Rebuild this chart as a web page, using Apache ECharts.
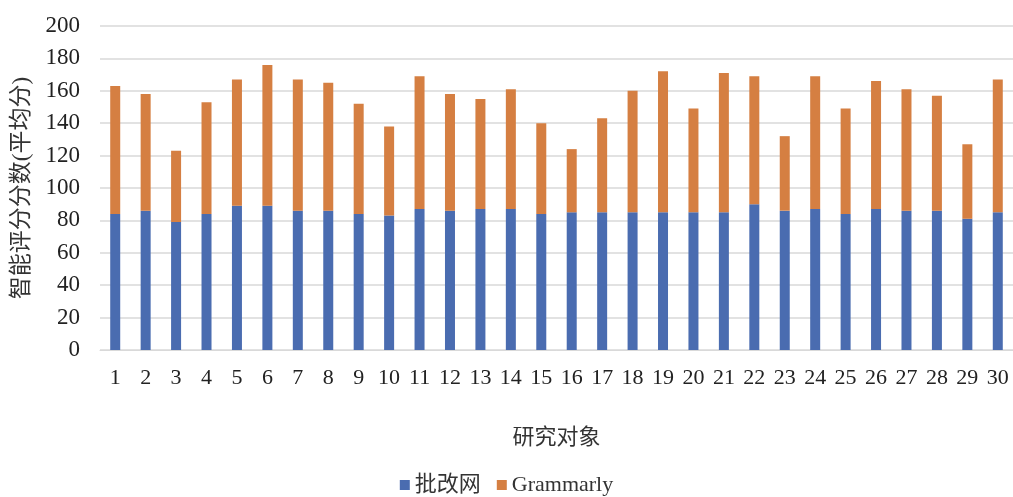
<!DOCTYPE html>
<html><head><meta charset="utf-8">
<script src="https://cdn.jsdelivr.net/npm/echarts@6/dist/echarts.min.js"></script>
<style>html,body{margin:0;padding:0;background:#fff}#c{width:1013px;height:497px}</style>
</head><body><div id="c"></div>
<script>
const categories = ['1','2','3','4','5','6','7','8','9','10','11','12','13','14','15','16','17','18','19','20','21','22','23','24','25','26','27','28','29','30'];
const pigaiwang = [84,86,79,84,89,89,86,86,84,83,87,86,87,87,84,85,85,85,85,85,85,90,86,87,84,87,86,86,81,85];
const grammarly = [79,72,44,69,78,87,81,79,68,55,82,72,68,74,56,39,58,75,87,64,86,79,46,82,65,79,75,71,46,82];
const seriesNames = ['批改网','Grammarly'];
const yTicks = {min:0, max:200, interval:20};

const font = '"Liberation Serif","Noto Sans CJK SC",serif';
const chart = echarts.init(document.getElementById('c'));
chart.setOption({
  animation:false,
  grid:{left:100,right:0,top:26,bottom:147},
  legend:{bottom:-4,left:'center',itemWidth:10,itemHeight:10,itemGap:16,icon:'rect',
    textStyle:{fontFamily:font,fontSize:22,color:'#333'},data:seriesNames},
  xAxis:{type:'category',data:categories,name:'研究对象',nameLocation:'middle',nameGap:77,
    nameTextStyle:{fontFamily:font,fontSize:22,color:'#333'},
    axisLine:{lineStyle:{color:'#d9d9d9'}},axisTick:{show:false},
    axisLabel:{fontFamily:font,fontSize:22,color:'#222',margin:17,interval:0}},
  yAxis:{type:'value',min:yTicks.min,max:yTicks.max,interval:yTicks.interval,
    name:'智能评分分数(平均分)',nameLocation:'middle',nameGap:67,
    nameTextStyle:{fontFamily:font,fontSize:23,color:'#333'},
    axisLabel:{fontFamily:font,fontSize:23,color:'#222',margin:20},
    splitLine:{lineStyle:{color:'#d9d9d9',width:1.5}},axisLine:{show:false}},
  series:[
    {name:seriesNames[0],type:'bar',stack:'s',data:pigaiwang,barWidth:10,itemStyle:{color:'#4A6CB0'}},
    {name:seriesNames[1],type:'bar',stack:'s',data:grammarly,barWidth:10,itemStyle:{color:'#D57F42'}}
  ]
});
</script></body></html>
